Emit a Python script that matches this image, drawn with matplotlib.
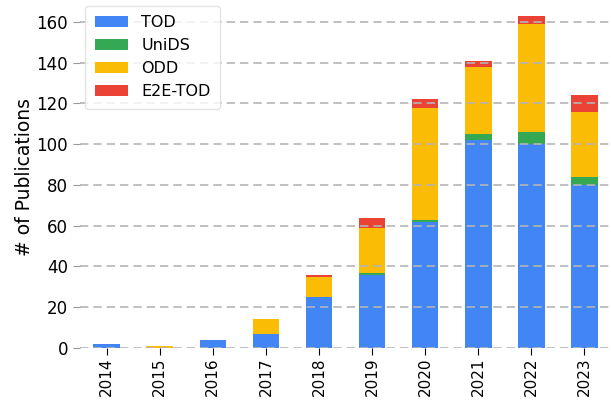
import numpy as np
import matplotlib.pyplot as plt

years = ["2014", "2015", "2016", "2017", "2018", "2019", "2020", "2021", "2022", "2023"]
tod = [2, 0, 4, 7, 25, 36, 62, 102, 100, 80]
unids = [0, 0, 0, 0, 0, 1, 1, 3, 6, 4]
odd = [0, 1, 0, 7, 10, 22, 55, 33, 53, 32]
e2e = [0, 0, 0, 0, 1, 5, 4, 3, 4, 8]

series = [("TOD", tod, "#4285F4"), ("UniDS", unids, "#34A853"),
          ("ODD", odd, "#FBBC05"), ("E2E-TOD", e2e, "#EA4335")]

fig = plt.figure(figsize=(6.11, 4.0), dpi=100)
ax = fig.add_axes([0.131, 0.13, 0.869, 0.856])

x = np.arange(len(years))
bottom = np.zeros(len(years))
for name, vals, col in series:
    ax.bar(x, vals, 0.5, bottom=bottom, color=col, label=name)
    bottom += np.array(vals)

ax.set_xlim(-0.5, 9.5)
ax.set_ylim(0, 168)
ax.set_yticks(range(0, 161, 20))
ax.set_xticks(x)
ax.set_xticklabels(years, rotation=90, fontsize=11)
ax.tick_params(axis="y", labelsize=12, color="#999999", length=5)
ax.tick_params(axis="x", length=5, pad=2)
ax.set_ylabel("# of Publications", fontsize=13.5, labelpad=2)
for s in ax.spines.values():
    s.set_visible(False)
ax.grid(axis="y", linestyle="--", color="#b5b5b5", linewidth=1.2, dashes=(5, 3))
ax.set_axisbelow(False)
leg = ax.legend(loc="upper left", fontsize=11.5, borderaxespad=0.0, handlelength=2.1,
                borderpad=0.6, bbox_to_anchor=(0.01, 1.0))
leg.get_frame().set_edgecolor("#dddddd")

plt.savefig("out.png")
